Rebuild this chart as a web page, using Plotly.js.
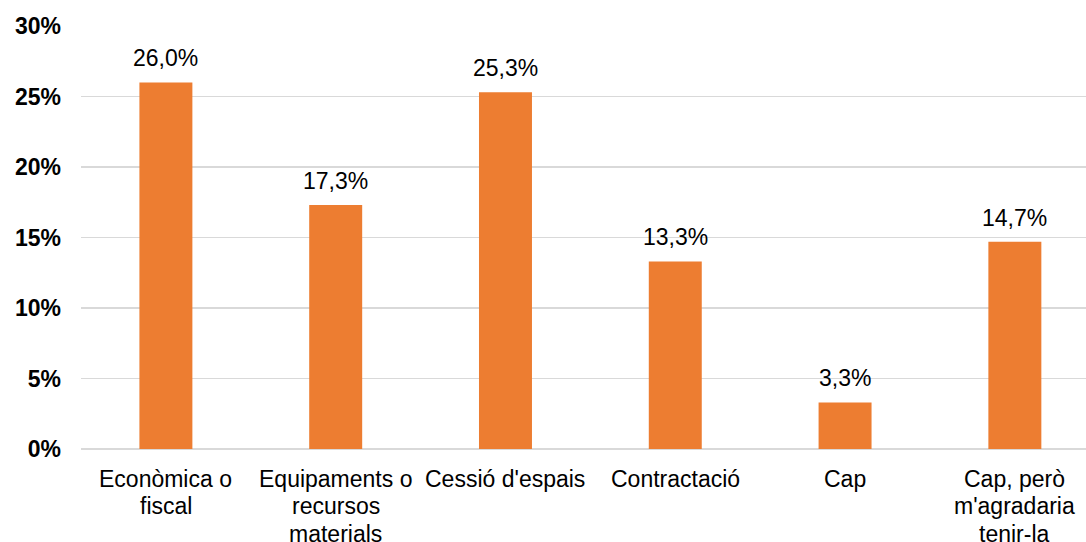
<!DOCTYPE html>
<html>
<head>
<meta charset="utf-8">
<script src="https://cdn.plot.ly/plotly-3.0.1.min.js"></script>
<style>html,body{margin:0;padding:0;background:#fff;}#chart{width:1086px;height:542px;}</style>
</head>
<body>
<div id="chart"></div>
<script>
const categories = ["Econòmica o fiscal", "Equipaments o recursos materials", "Cessió d'espais", "Contractació", "Cap", "Cap, però m'agradaria tenir-la"];
const categoryLabelLines = [
  ["Econòmica o", "fiscal"],
  ["Equipaments o", "recursos", "materials"],
  ["Cessió d'espais"],
  ["Contractació"],
  ["Cap"],
  ["Cap, però", "m'agradaria", "tenir-la"]
];
const values = [26.0, 17.3, 25.3, 13.3, 3.3, 14.7];
const valueLabels = ["26,0%", "17,3%", "25,3%", "13,3%", "3,3%", "14,7%"];
const yTickVals = [0, 5, 10, 15, 20, 25, 30];
const yTickText = ["0%", "5%", "10%", "15%", "20%", "25%", "30%"];

const FONT = "Liberation Sans, Arial, sans-serif";
const FS = 23;
const LINE_H = 27.3;

const trace = {
  type: "bar",
  x: categories,
  y: values,
  marker: {color: "#ED7D31"},
  hoverinfo: "none"
};

const annotations = [];
categories.forEach((c, i) => {
  annotations.push({
    x: c, y: values[i], xref: "x", yref: "y",
    text: valueLabels[i], showarrow: false,
    yanchor: "bottom", yshift: 9,
    font: {family: FONT, size: FS, color: "#000"}
  });
  categoryLabelLines[i].forEach((line, j) => {
    annotations.push({
      x: c, y: 0, xref: "x", yref: "y",
      text: line, showarrow: false,
      yanchor: "top", yshift: -15 - j * LINE_H,
      font: {family: FONT, size: FS, color: "#000"}
    });
  });
});

const layout = {
  width: 1086, height: 542,
  margin: {l: 81, r: 0, t: 26, b: 93},
  paper_bgcolor: "#fff", plot_bgcolor: "#fff",
  bargap: 0.688,
  showlegend: false,
  xaxis: {
    type: "category",
    range: [-0.5, 5.419],
    showgrid: false, zeroline: false, showline: false,
    ticks: "", showticklabels: false
  },
  yaxis: {
    range: [0, 30],
    tickvals: yTickVals, ticktext: yTickText,
    showgrid: true, gridcolor: "#d9d9d9", gridwidth: 1.5,
    zeroline: true, zerolinecolor: "#d9d9d9", zerolinewidth: 1.5,
    showline: false, ticks: "",
    ticklabelstandoff: 19,
    tickfont: {family: FONT, size: FS, color: "#000", weight: "bold"}
  },
  annotations: annotations
};

Plotly.newPlot("chart", [trace], layout, {displayModeBar: false, staticPlot: true});
</script>
</body>
</html>
